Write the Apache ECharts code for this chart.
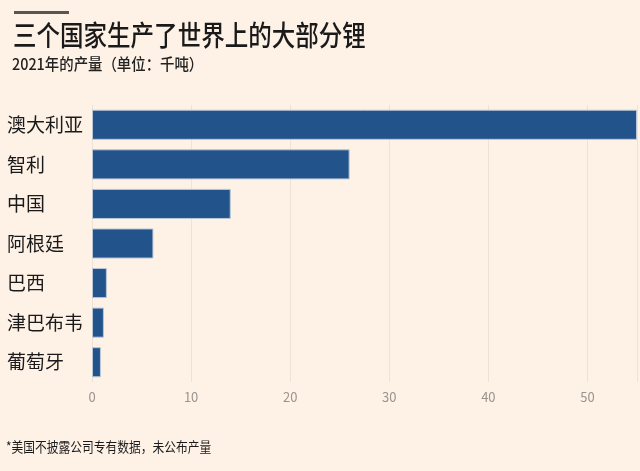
<!DOCTYPE html>
<html><head><meta charset="utf-8">
<script src="https://cdn.jsdelivr.net/npm/echarts@6/dist/echarts.min.js"></script>
<style>html,body{margin:0;padding:0;background:#fef1e6;}#c{width:640px;height:471px;}</style>
</head><body><div id="c"></div>
<script>
const categories = ['澳大利亚','智利','中国','阿根廷','巴西','津巴布韦','葡萄牙'];
const values = [55, 26, 14, 6.2, 1.5, 1.2, 0.9];
const xTicks = [0, 10, 20, 30, 40, 50];
const titleText = '三个国家生产了世界上的大部分锂';
const subtitleText = '2021年的产量（单位：千吨）';
const footnoteText = '*美国不披露公司专有数据，未公布产量';

const font = '"Noto Sans CJK SC", "Noto Sans", sans-serif';
const chart = echarts.init(document.getElementById('c'), null, {renderer:'canvas'});
chart.setOption({
  backgroundColor: '#fef1e6',
  animation: false,
  graphic: [
    {type:'rect', shape:{x:14, y:11, width:55, height:3}, style:{fill:'#5a5550'}},
    {type:'text', x:13, y:35, scaleX:0.84, style:{text:titleText, font:'500 28px ' + font, fill:'#1a1a1a', textVerticalAlign:'middle'}},
    {type:'text', x:12, y:64, scaleX:0.9, style:{text:subtitleText, font:'500 16px ' + font, fill:'#222', textVerticalAlign:'middle'}},
    {type:'text', x:6, y:447, scaleX:0.87, style:{text:footnoteText, font:'13.5px ' + font, fill:'#1a1a1a', textVerticalAlign:'middle'}}
  ],
  grid: {left:92, right:3, top:105, bottom:89, containLabel:false},
  xAxis: {
    type:'value', min:0, max:55, interval:10,
    axisLine:{show:false}, axisTick:{show:false},
    splitLine:{show:true, lineStyle:{color:'#eee2d6', width:1}},
    axisLabel:{color:'#9a948e', fontSize:13, fontFamily:font, margin:9, showMaxLabel:false,
      formatter: v => xTicks.indexOf(v) >= 0 ? String(v) : ''}
  },
  yAxis: {
    type:'category', data:categories, inverse:true,
    axisLine:{show:false}, axisTick:{show:false},
    axisLabel:{color:'#1a1a1a', fontSize:19, fontFamily:font, align:'left', margin:85}
  },
  series: [{
    type:'bar', data:values, barCategoryGap:'24%',
    itemStyle:{color:'#22538a', borderColor:'#b9c6d6', borderWidth:1}
  }]
});
</script></body></html>
